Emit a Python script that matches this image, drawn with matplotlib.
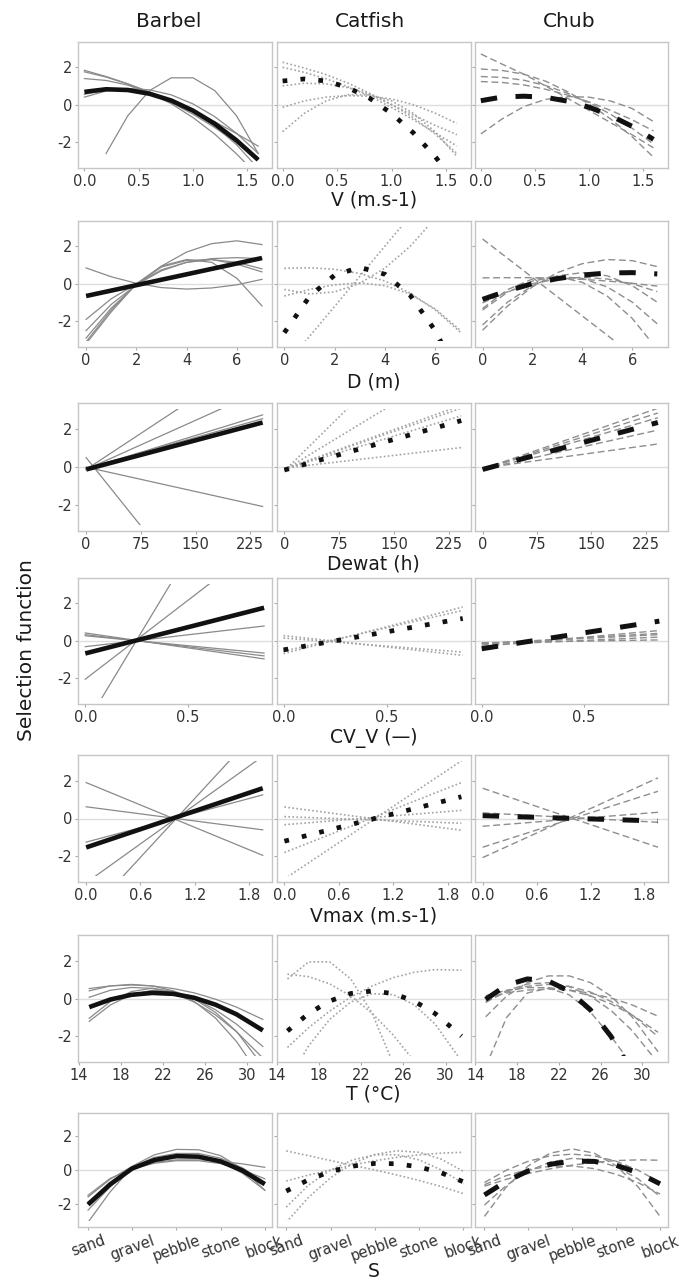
import numpy as np
import matplotlib
matplotlib.use("Agg")
import matplotlib.pyplot as plt
from matplotlib.patches import Rectangle

nan = np.nan

SPECIES = ["Barbel", "Catfish", "Chub"]

# ---------------- Row 1 : V (m.s-1) ----------------
V_X = [0.0, 0.2, 0.4, 0.6, 0.8, 1.0, 1.2, 1.4, 1.6]
V_BARBEL_MEAN = [0.68, 0.82, 0.78, 0.58, 0.22, -0.32, -1.02, -1.90, -2.94]
V_BARBEL_RIVERS = [
    [1.83, 1.50, 1.11, 0.68, 0.20, -0.33, -0.91, -1.54, -2.21],
    [1.75, 1.47, 1.10, 0.65, 0.11, -0.51, -1.22, -2.01, -2.90],
    [1.39, 1.29, 1.04, 0.62, 0.05, -0.69, -1.57, -2.62, -3.80],
    [0.40, 0.73, 0.86, 0.79, 0.52, 0.04, -0.64, -1.52, -2.60],
    [0.55, 0.78, 0.80, 0.62, 0.24, -0.35, -1.14, -2.13, -3.40],
    [nan, -2.60, -0.59, 0.75, 1.43, 1.43, 0.75, -0.59, -2.60],
]
V_CATFISH_MEAN = [1.26, 1.37, 1.26, 0.91, 0.34, -0.47, -1.50, -2.76, -4.25]
V_CATFISH_RIVERS = [
    [2.26, 1.95, 1.60, 1.15, 0.60, 0.00, -0.55, -1.10, -1.60],
    [1.99, 1.72, 1.38, 0.95, 0.45, -0.15, -0.80, -1.50, -2.20],
    [-0.14, 0.20, 0.40, 0.48, 0.45, 0.30, 0.00, -0.45, -1.00],
    [-1.44, -0.46, 0.20, 0.53, 0.53, 0.20, -0.46, -1.44, -2.75],
    [1.00, 1.14, 1.11, 0.91, 0.55, 0.01, -0.69, -1.56, -2.60],
]
V_CHUB_MEAN = [0.21, 0.41, 0.45, 0.39, 0.19, -0.13, -0.58, -1.15, -1.85]
V_CHUB_RIVERS = [
    [2.70, 2.15, 1.62, 1.00, 0.35, -0.30, -0.95, -1.60, -2.30],
    [1.90, 1.82, 1.62, 1.25, 0.70, 0.05, -0.75, -1.70, -2.80],
    [1.50, 1.45, 1.30, 1.02, 0.62, 0.12, -0.50, -1.25, -2.10],
    [1.23, 1.18, 1.05, 0.82, 0.52, 0.15, -0.30, -0.80, -1.40],
    [-1.56, -0.75, -0.10, 0.28, 0.43, 0.40, 0.20, -0.20, -0.90],
]

# ---------------- Row 2 : D (m) ----------------
D_X = [0, 1, 2, 3, 4, 5, 6, 7]
D_BARBEL_MEAN = [-0.65, -0.36, -0.07, 0.22, 0.51, 0.80, 1.09, 1.38]
D_BARBEL_RIVERS = [
    [0.85, 0.38, 0.03, -0.20, -0.28, -0.22, -0.05, 0.24],
    [-1.90, -0.80, 0.00, 0.75, 1.15, 1.30, 1.15, 0.80],
    [-2.90, -1.30, -0.05, 0.95, 1.70, 2.15, 2.30, 2.10],
    [-3.10, -1.40, 0.00, 0.95, 1.30, 1.15, 0.30, -1.18],
    [-3.20, -1.50, 0.00, 0.90, 1.25, 1.30, 1.05, 0.64],
    [-2.50, -1.10, -0.05, 0.70, 1.15, 1.35, 1.40, 1.35],
]
D_CATFISH_MEAN = [-2.61, -0.68, 0.47, 0.88, 0.51, -0.62, -2.52, -5.20]
D_CATFISH_RIVERS = [
    [0.83, 0.86, 0.78, 0.55, 0.15, -0.50, -1.40, -2.60],
    [-0.30, -0.54, -0.43, 0.03, 0.85, 2.01, 3.53, 5.40],
    [-4.40, -2.81, -1.20, 0.41, 2.03, 3.64, 5.30, 6.90],
    [-0.65, -0.30, -0.05, 0.05, -0.10, -0.55, -1.35, -2.50],
]
D_CHUB_MEAN = [-0.83, -0.37, 0.01, 0.28, 0.47, 0.58, 0.60, 0.53]
D_CHUB_RIVERS = [
    [2.40, 1.37, 0.34, -0.69, -1.72, -2.75, -3.80, -4.80],
    [-2.48, -1.19, -0.16, 0.60, 1.08, 1.30, 1.24, 0.92],
    [0.32, 0.33, 0.33, 0.30, 0.24, 0.15, 0.03, -0.12],
    [-1.40, -0.45, 0.15, 0.39, 0.29, -0.17, -0.98, -2.14],
    [-1.32, -0.31, 0.26, 0.39, 0.08, -0.66, -1.85, -3.50],
    [-1.02, -0.42, 0.01, 0.26, 0.35, 0.26, 0.01, -0.42],
    [-2.20, -0.98, -0.10, 0.43, 0.60, 0.43, -0.10, -0.98],
]

# ---------------- Row 3 : Dewat (h) ----------------
DEWAT_X = [0, 242]
DEWAT_BARBEL_MEAN = [-0.12, 2.35]
DEWAT_BARBEL_RIVERS = [
    [-0.12, 6.00], [-0.12, 4.05], [-0.10, 2.75], [-0.05, 2.55],
    [0.00, -2.07], [0.50, -11.10],
]
DEWAT_CATFISH_MEAN = [-0.15, 2.45]
DEWAT_CATFISH_RIVERS = [
    [-0.20, 9.00], [-0.15, 5.50], [-0.10, 3.25], [-0.10, 3.10],
    [-0.05, 1.03], [-0.10, 2.70],
]
DEWAT_CHUB_MEAN = [-0.12, 2.35]
DEWAT_CHUB_RIVERS = [
    [-0.10, 3.10], [-0.10, 2.85], [-0.10, 1.95], [-0.05, 1.22], [-0.10, 2.60],
]

# ---------------- Row 4 : CV_V (—) ----------------
CVV_X = [0.0, 0.87]
CVV_BARBEL_MEAN = [-0.67, 1.76]
CVV_BARBEL_RIVERS = [
    [-4.50, 11.30], [-2.04, 5.27], [-0.31, 0.79], [0.27, -0.65],
    [0.42, -0.96], [0.33, -0.80],
]
CVV_CATFISH_MEAN = [-0.48, 1.19]
CVV_CATFISH_RIVERS = [
    [-0.68, 1.80], [-0.55, 1.62], [0.28, -0.77], [0.15, -0.60],
]
CVV_CHUB_MEAN = [-0.42, 1.05]
CVV_CHUB_RIVERS = [
    [-0.15, 0.33], [-0.22, 0.20], [-0.10, 0.05], [-0.15, 0.40], [-0.30, 0.55],
]

# ---------------- Row 5 : Vmax (m.s-1) ----------------
VMAX_X = [0.0, 1.95]
VMAX_BARBEL_MEAN = [-1.53, 1.60]
VMAX_BARBEL_RIVERS = [
    [-3.40, 3.29], [-5.17, 4.96], [1.90, -1.95], [0.62, -0.60], [-1.25, 1.25],
]
VMAX_CATFISH_MEAN = [-1.20, 1.15]
VMAX_CATFISH_RIVERS = [
    [-3.20, 3.05], [-1.80, 1.90], [0.61, -0.62], [-0.33, 0.43], [0.10, -0.25],
]
VMAX_CHUB_MEAN = [0.15, -0.13]
VMAX_CHUB_RIVERS = [
    [1.60, -1.52], [-1.52, 1.44], [-2.07, 2.15], [-0.41, 0.33], [0.30, -0.20],
]

# ---------------- Row 6 : T (°C) ----------------
T_X = [15, 17, 19, 21, 23, 25, 27, 29, 31.5]
T_BARBEL_MEAN = [-0.45, -0.05, 0.20, 0.30, 0.25, 0.04, -0.32, -0.83, -1.68]
T_BARBEL_RIVERS = [
    [0.53, 0.67, 0.72, 0.67, 0.53, 0.30, -0.03, -0.45, -1.10],
    [-1.04, -0.16, 0.37, 0.55, 0.37, -0.16, -1.03, -2.27, -4.30],
    [-1.20, -0.34, 0.21, 0.44, 0.36, -0.03, -0.73, -1.74, -3.55],
    [0.41, 0.67, 0.75, 0.67, 0.41, -0.01, -0.59, -1.35, -2.53],
    [0.07, 0.44, 0.59, 0.54, 0.28, -0.19, -0.86, -1.75, -3.14],
]
T_CATFISH_MEAN = [-1.71, -0.79, -0.13, 0.27, 0.40, 0.27, -0.13, -0.79, -1.98]
T_CATFISH_RIVERS = [
    [1.29, 1.16, 0.78, 0.14, -0.76, -1.91, -3.30, -5.00, -8.00],
    [1.04, 1.94, 1.94, 1.04, -0.75, -3.40, -6.90, -11.0, -17.0],
    [-2.58, -1.54, -0.66, 0.08, 0.66, 1.10, 1.39, 1.53, 1.50],
    [-4.40, -2.50, -1.10, -0.18, 0.26, 0.21, -0.32, -1.35, -3.30],
]
T_CHUB_MEAN = [-0.04, 0.71, 1.04, 0.93, 0.39, -0.58, -2.00, -3.90, nan]
T_CHUB_RIVERS = [
    [-0.96, 0.13, 0.85, 1.20, 1.20, 0.85, 0.13, -0.96, -2.81],
    [-0.15, 0.35, 0.65, 0.75, 0.65, 0.35, -0.15, -0.85, -2.01],
    [0.15, 0.44, 0.58, 0.58, 0.44, 0.15, -0.28, -0.86, -1.78],
    [0.03, 0.29, 0.45, 0.50, 0.45, 0.29, 0.03, -0.33, -0.93],
    [-0.21, 0.42, 0.77, 0.84, 0.63, 0.14, -0.63, -1.68, -3.40],
    [-3.60, -1.00, 0.30, 0.55, 0.20, -0.70, -2.00, -3.50, nan],
]

# ---------------- Row 7 : S (substrate) ----------------
S_LABELS = ["sand", "gravel", "pebble", "stone", "block"]
S_X = [1, 1.5, 2, 2.5, 3, 3.5, 4, 4.5, 5]
S_BARBEL_MEAN = [-2.05, -0.85, 0.09, 0.59, 0.82, 0.79, 0.51, -0.04, -0.84]
S_BARBEL_RIVERS = [
    [-1.60, -0.55, 0.22, 0.90, 1.22, 1.20, 0.85, 0.05, -1.20],
    [-3.10, -1.30, 0.18, 0.75, 0.98, 0.98, 0.70, 0.12, -0.72],
    [-1.89, -0.80, 0.10, 0.45, 0.60, 0.60, 0.52, 0.36, 0.16],
    [-2.38, -1.00, 0.12, 0.65, 0.88, 0.85, 0.50, -0.20, -1.20],
    [-1.50, -0.50, 0.05, 0.40, 0.55, 0.55, 0.38, 0.00, -0.52],
]
S_CATFISH_MEAN = [-1.25, -0.58, -0.09, 0.23, 0.39, 0.37, 0.18, -0.17, -0.70]
S_CATFISH_RIVERS = [
    [1.13, 0.85, 0.56, 0.28, 0.00, -0.30, -0.62, -0.98, -1.40],
    [-0.65, -0.30, 0.00, 0.30, 0.55, 0.75, 0.90, 1.00, 1.05],
    [-3.10, -1.63, -0.46, 0.39, 0.92, 1.14, 1.05, 0.64, -0.08],
    [-2.20, -0.90, 0.00, 0.60, 0.90, 0.90, 0.60, 0.00, -0.80],
]
S_CHUB_MEAN = [-1.48, -0.66, -0.05, 0.34, 0.53, 0.51, 0.28, -0.16, -0.82]
S_CHUB_RIVERS = [
    [-2.75, -1.00, 0.25, 1.00, 1.25, 1.00, 0.25, -1.00, -2.75],
    [-0.96, -0.55, -0.21, 0.07, 0.29, 0.45, 0.56, 0.60, 0.58],
    [-0.74, -0.01, 0.52, 0.84, 0.94, 0.84, 0.52, -0.01, -0.74],
    [-0.87, -0.33, 0.03, 0.22, 0.24, 0.08, -0.25, -0.75, -1.42],
    [-2.08, -0.91, -0.06, 0.47, 0.69, 0.60, 0.19, -0.53, -1.57],
]

# axis ticks
V_TICKS, V_TICKLABELS = [0, 0.5, 1.0, 1.5], ["0.0", "0.5", "1.0", "1.5"]
D_TICKS, D_TICKLABELS = [0, 2, 4, 6], ["0", "2", "4", "6"]
DEWAT_TICKS, DEWAT_TICKLABELS = [0, 75, 150, 225], ["0", "75", "150", "225"]
CVV_TICKS, CVV_TICKLABELS = [0, 0.5], ["0.0", "0.5"]
VMAX_TICKS, VMAX_TICKLABELS = [0, 0.6, 1.2, 1.8], ["0.0", "0.6", "1.2", "1.8"]
T_TICKS, T_TICKLABELS = [14, 18, 22, 26, 30], ["14", "18", "22", "26", "30"]
S_TICKS = [1, 2, 3, 4, 5]
Y_TICKS, Y_TICKLABELS = [-2, 0, 2], ["-2", "0", "2"]

rows = [
    dict(label="V (m.s-1)", x=V_X, xlim=(-0.056, 1.73), ticks=V_TICKS, tl=V_TICKLABELS,
         data=[(V_BARBEL_MEAN, V_BARBEL_RIVERS), (V_CATFISH_MEAN, V_CATFISH_RIVERS),
               (V_CHUB_MEAN, V_CHUB_RIVERS)]),
    dict(label="D (m)", x=D_X, xlim=(-0.31, 7.41), ticks=D_TICKS, tl=D_TICKLABELS,
         data=[(D_BARBEL_MEAN, D_BARBEL_RIVERS), (D_CATFISH_MEAN, D_CATFISH_RIVERS),
               (D_CHUB_MEAN, D_CHUB_RIVERS)]),
    dict(label="Dewat (h)", x=DEWAT_X, xlim=(-10.8, 255.3), ticks=DEWAT_TICKS, tl=DEWAT_TICKLABELS,
         data=[(DEWAT_BARBEL_MEAN, DEWAT_BARBEL_RIVERS), (DEWAT_CATFISH_MEAN, DEWAT_CATFISH_RIVERS),
               (DEWAT_CHUB_MEAN, DEWAT_CHUB_RIVERS)]),
    dict(label="CV_V (\u2014)", x=CVV_X, xlim=(-0.034, 0.91), ticks=CVV_TICKS, tl=CVV_TICKLABELS,
         data=[(CVV_BARBEL_MEAN, CVV_BARBEL_RIVERS), (CVV_CATFISH_MEAN, CVV_CATFISH_RIVERS),
               (CVV_CHUB_MEAN, CVV_CHUB_RIVERS)]),
    dict(label="Vmax (m.s-1)", x=VMAX_X, xlim=(-0.087, 2.056), ticks=VMAX_TICKS, tl=VMAX_TICKLABELS,
         data=[(VMAX_BARBEL_MEAN, VMAX_BARBEL_RIVERS), (VMAX_CATFISH_MEAN, VMAX_CATFISH_RIVERS),
               (VMAX_CHUB_MEAN, VMAX_CHUB_RIVERS)]),
    dict(label="T (\u00b0C)", x=T_X, xlim=(13.96, 32.4), ticks=T_TICKS, tl=T_TICKLABELS,
         data=[(T_BARBEL_MEAN, T_BARBEL_RIVERS), (T_CATFISH_MEAN, T_CATFISH_RIVERS),
               (T_CHUB_MEAN, T_CHUB_RIVERS)]),
    dict(label="S", x=S_X, xlim=(0.78, 5.17), ticks=S_TICKS, tl=S_LABELS,
         data=[(S_BARBEL_MEAN, S_BARBEL_RIVERS), (S_CATFISH_MEAN, S_CATFISH_RIVERS),
               (S_CHUB_MEAN, S_CHUB_RIVERS)]),
]

# ---------------- layout (pixels) ----------------
W, H = 686, 1281
COLS = [(78.3, 272.3), (276.5, 471.0), (474.8, 667.5)]
ROWS_Y = [(41.6, 167.7), (221.0, 346.7), (403.3, 531.0), (577.7, 704.0),
          (755.0, 882.0), (935.0, 1062.2), (1113.3, 1226.7)]
XLABEL_BASE = [206, 387.3, 569.3, 743.3, 922.0, 1100, 1276.7]

GREY_STYLE = [
    dict(color="#8a8a8a", lw=0.9, ls="-"),
    dict(color="#a3a3a3", lw=1.2, ls=(0, (1, 1.4))),
    dict(color="#8e8e8e", lw=1.0, ls=(0, (5, 2.6))),
]
MEAN_STYLE = [
    dict(color="#111111", lw=3.3, ls="-", solid_capstyle="butt"),
    dict(color="#111111", lw=3.4, ls=(0, (1, 2.8))),
    dict(color="#111111", lw=3.6, ls=(0, (3.3, 3.7))),
]

plt.rcParams["font.family"] = ["DejaVu Sans"]
fig = plt.figure(figsize=(W / 100, H / 100), dpi=100)
fig.patch.set_facecolor("white")


def rect(l, t, r, b):
    return [l / W, 1 - b / H, (r - l) / W, (b - t) / H]


for ri, row in enumerate(rows):
    top, bot = ROWS_Y[ri]
    for ci in range(3):
        l, r = COLS[ci]
        ax = fig.add_axes(rect(l, top, r, bot))
        ax.set_xlim(*row["xlim"])
        ax.set_ylim(-3.36, 3.36)
        ax.axhline(0, color="#dedede", lw=1.0, zorder=0)
        clip = Rectangle((row["xlim"][0], -3.05), row["xlim"][1] - row["xlim"][0], 6.1,
                         transform=ax.transData)
        mean, rivers = row["data"][ci]
        for ys in rivers:
            ln, = ax.plot(row["x"], ys, zorder=2, **GREY_STYLE[ci])
            ln.set_clip_path(clip)
        ln, = ax.plot(row["x"], mean, zorder=3, **MEAN_STYLE[ci])
        ln.set_clip_path(clip)
        for sp in ax.spines.values():
            sp.set_color("#c6c6c6")
            sp.set_linewidth(1.0)
        ax.set_yticks(Y_TICKS)
        ax.set_yticklabels(Y_TICKLABELS if ci == 0 else [])
        ax.set_xticks(row["ticks"])
        if row["label"] == "S":
            ax.set_xticklabels(row["tl"], rotation=20, ha="center")
        else:
            ax.set_xticklabels(row["tl"])
        ax.tick_params(axis="both", direction="out", length=2.5, width=0.8,
                       color="#a8a8a8", labelcolor="#333333", labelsize=10.5, pad=2)
        ax.tick_params(axis="x", pad=2)
        if ri == 0:
            fig.text([169, 370, 569][ci] / W, 1 - 26.7 / H, SPECIES[ci],
                     ha="center", va="baseline", fontsize=14.5, color="#1a1a1a")
    fig.text(373.7 / W, 1 - XLABEL_BASE[ri] / H, row["label"], ha="center",
             va="baseline", fontsize=13.5, color="#1a1a1a")

fig.text(27 / W, 1 - 650 / H, "Selection function", rotation=90, ha="center",
         va="center", fontsize=14.5, color="#1a1a1a")

fig.savefig("out.png", dpi=100, facecolor="white")
